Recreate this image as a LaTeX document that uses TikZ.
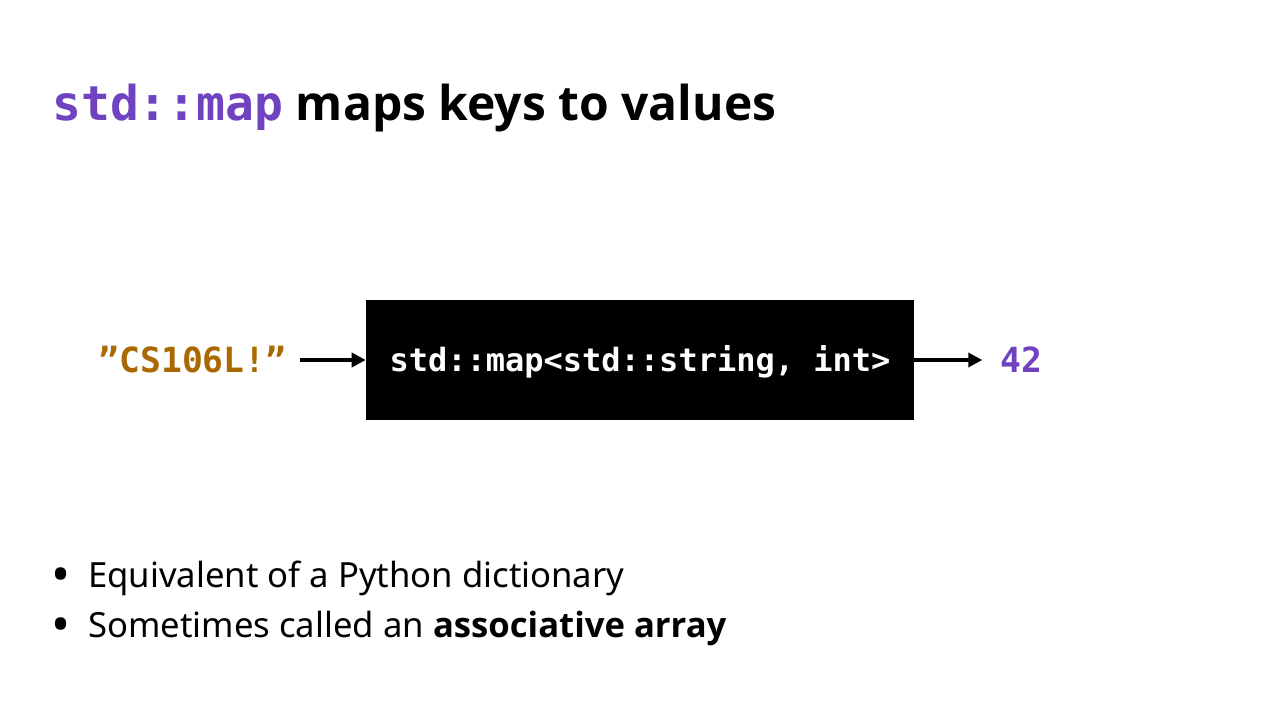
\documentclass[tikz,border=0pt]{standalone}
\usepackage{fontspec}
\setmainfont{Noto Sans}
\newfontfamily\headfont{Open Sans}
\setmonofont{DejaVu Sans Mono}
\usepackage{xcolor}
\usepackage{tikz}
\usetikzlibrary{arrows.meta,positioning}
\definecolor{mappurple}{RGB}{112,66,192}
\definecolor{keybrown}{RGB}{170,104,0}

\begin{document}
\begin{tikzpicture}[x=0.75pt,y=-0.75pt,
  arr/.style={-{Triangle[length=10.5pt,width=10.5pt]},line width=3.4pt},
  mapbox/.style={rectangle,fill=black,minimum width=411pt,minimum height=90pt,inner sep=0pt,text height=18pt,text depth=1.5pt,text=white,font=\fontsize{24}{29}\selectfont\ttfamily\bfseries},
  code/.style={inner sep=0pt,font=\fontsize{26}{31}\selectfont\ttfamily\bfseries},
  item/.style={anchor=base west,inner sep=0pt,font=\fontsize{26}{31}\selectfont}]
\useasboundingbox[fill=white] (0,0) rectangle (1280,720);
\newcommand{\dotmark}{\llap{\makebox[0pt]{\raisebox{-4pt}{\fontsize{38}{38}\selectfont•}}\hspace{20.25pt}}}
\node[anchor=base west,inner sep=0pt,font=\fontsize{36}{43}\selectfont\headfont\bfseries] (title) at (52,121)
  {{\ttfamily\color{mappurple}std::map} maps keys to values};
\node[mapbox] (map) at (640,360) {std::map<std::string, int>};
\node[code,text=keybrown,left=59.25pt of map] (key) {”CS106L!”};
\node[code,text=mappurple,right=64.5pt of map] (val) {42};
\draw[arr,shorten <=9.75pt] (key) -- (map);
\draw[arr,shorten >=13.5pt] (map) -- (val);
\node[item] (item1) at (88,587) {\dotmark Equivalent of a Python dictionary};
\node[item] (item2) at (88,637) {\dotmark Sometimes called an {\headfont\bfseries associative array}};
\end{tikzpicture}
\end{document}
